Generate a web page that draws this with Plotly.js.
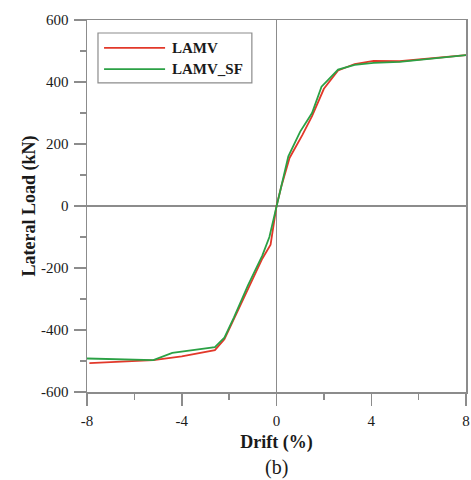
<!DOCTYPE html>
<html>
<head>
<meta charset="utf-8">
<script src="https://cdn.plot.ly/plotly-3.0.1.min.js"></script>
<style>html,body{margin:0;padding:0;background:#fff;}#chart{width:471px;height:480px;}</style>
</head>
<body>
<div id="chart"></div>
<script>
// Data
var lamvDrift = [-7.9, -6.5, -5.2, -4.0, -2.6, -2.2, -1.8, -1.2, -0.6, -0.25, 0, 0.2, 0.55, 1.1, 1.5, 2.0, 2.6, 3.3, 4.1, 5.2, 6.5, 8];
var lamvLoad  = [-507, -502, -497, -485, -465, -430, -365, -262, -170, -125, 0, 62, 155, 230, 290, 378, 437, 458, 468, 467, 477, 487];
var sfDrift = [-8, -6.5, -5.2, -4.4, -3.3, -2.6, -2.2, -1.8, -1.2, -0.6, -0.3, 0, 0.2, 0.5, 1.0, 1.5, 1.9, 2.6, 3.3, 4.1, 5.2, 6.5, 8];
var sfLoad  = [-492, -494, -497, -474, -462, -455, -425, -360, -255, -160, -100, 0, 70, 160, 240, 300, 385, 440, 455, 462, 465, 475, 487];
var seriesNames = ['LAMV', 'LAMV_SF'];
var xTicks = [-8, -4, 0, 4, 8];
var xTickText = ['-8', '-4', '0', '4', '8'];
var xMinor = [-6, -2, 2, 6];
var yTicks = [-600, -400, -200, 0, 200, 400, 600];
var yTickText = ['-600', '-400', '-200', '0', '200', '400', '600'];
var yMinor = [-500, -300, -100, 100, 300, 500];

var red = '#e2382a', green = '#2ba145', grey = '#8c8c8c';
var serif = 'Liberation Serif, Times New Roman, serif';

var traces = [
  {x: lamvDrift, y: lamvLoad, name: seriesNames[0], type: 'scatter', mode: 'lines', line: {color: red, width: 1.8}},
  {x: sfDrift, y: sfLoad, name: seriesNames[1], type: 'scatter', mode: 'lines', line: {color: green, width: 1.8}}
];

var axisCommon = {
  showgrid: false, zeroline: true, zerolinecolor: grey, zerolinewidth: 1.5,
  showline: true, linecolor: grey, linewidth: 1.5, mirror: true,
  ticks: 'outside', ticklen: 12, tickwidth: 1.5, tickcolor: grey,
  tickfont: {family: serif, size: 15, color: '#1a1a1a'},
  ticklabelstandoff: 2
};

var layout = {
  width: 471, height: 480,
  margin: {l: 87, r: 5, t: 20, b: 88},
  paper_bgcolor: '#fff', plot_bgcolor: '#fff',
  showlegend: false,
  xaxis: Object.assign({}, axisCommon, {
    range: [-8, 8], tickmode: 'array', tickvals: xTicks, ticktext: xTickText,
    minor: {tickvals: xMinor, ticks: 'outside', ticklen: 6, tickwidth: 1.5, tickcolor: grey},
    title: {text: '<b>Drift (%)</b>', font: {family: serif, size: 18, color: '#1a1a1a'}, standoff: 8}
  }),
  yaxis: Object.assign({}, axisCommon, {
    range: [-600, 600], tickmode: 'array', tickvals: yTicks, ticktext: yTickText,
    minor: {tickvals: yMinor, ticks: 'outside', ticklen: 6, tickwidth: 1.5, tickcolor: grey},
    title: {text: '<b>Lateral Load (kN)</b>', font: {family: serif, size: 18, color: '#1a1a1a'}, standoff: 0}
  }),
  shapes: [
    {type: 'rect', xref: 'paper', yref: 'paper', x0: 0.029, x1: 0.435, y0: 0.831, y1: 0.965,
     line: {color: grey, width: 1.2}, fillcolor: '#fff', layer: 'above'},
    {type: 'line', xref: 'paper', yref: 'paper', x0: 0.045, x1: 0.206, y0: 0.925, y1: 0.925,
     line: {color: red, width: 1.8}, layer: 'above'},
    {type: 'line', xref: 'paper', yref: 'paper', x0: 0.045, x1: 0.206, y0: 0.868, y1: 0.868,
     line: {color: green, width: 1.8}, layer: 'above'}
  ],
  annotations: [
    {xref: 'paper', yref: 'paper', x: 0.219, y: 0.925, xanchor: 'left', yanchor: 'middle', showarrow: false,
     text: '<b>' + seriesNames[0] + '</b>', font: {family: serif, size: 15, color: '#1a1a1a'}},
    {xref: 'paper', yref: 'paper', x: 0.219, y: 0.868, xanchor: 'left', yanchor: 'middle', showarrow: false,
     text: '<b>' + seriesNames[1] + '</b>', font: {family: serif, size: 15, color: '#1a1a1a'}},
    {xref: 'paper', yref: 'paper', x: 0.5, y: -0.202, xanchor: 'center', yanchor: 'middle', showarrow: false,
     text: '(b)', font: {family: serif, size: 20, color: '#1a1a1a'}}
  ]
};

Plotly.newPlot('chart', traces, layout, {displayModeBar: false, staticPlot: true});
</script>
</body>
</html>
